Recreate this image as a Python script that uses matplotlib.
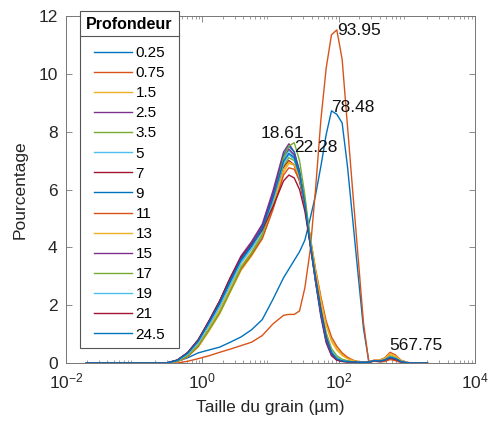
import matplotlib
matplotlib.use("Agg")
import matplotlib.pyplot as plt
from matplotlib.lines import Line2D
from matplotlib.ticker import LogLocator, NullFormatter

plt.rcParams['font.family'] = ['Liberation Sans', 'DejaVu Sans']

# grain size classes (µm), subset of the granulometer bins
taille = [0.02, 0.30, 0.43, 0.61, 0.87, 1.25, 1.80, 2.57, 3.69, 5.28, 7.57,
          10.85, 15.55, 18.61, 22.28, 26.67, 31.93, 38.23, 45.77, 54.79,
          65.59, 78.48, 93.95, 112.47, 134.65, 161.2, 193.0, 231.0, 276.8,
          331.3, 396.7, 474.9, 567.75, 680, 815, 975, 1167, 2000]

profondeurs = ['0.25', '0.75', '1.5', '2.5', '3.5', '5', '7', '9', '11',
               '13', '15', '17', '19', '21', '24.5']

p_025 = [0, 0, 0.06, 0.18, 0.35, 0.45, 0.55, 0.72, 0.9, 1.15, 1.5, 2.2, 2.95,
         3.25, 3.55, 3.85, 4.25, 5.0, 5.8, 6.8, 7.9, 8.72, 8.6, 8.3, 6.8, 4.93,
         3.05, 1.2, 0.05, 0.08, 0.05, 0.06, 0.15, 0.1, 0.03, 0, 0, 0]
p_075 = [0, 0, 0, 0.06, 0.15, 0.25, 0.37, 0.48, 0.6, 0.72, 0.95, 1.35, 1.65,
         1.68, 1.68, 1.8, 2.6, 3.9, 6.0, 8.4, 10.2, 11.35, 11.52, 10.5, 8.2,
         5.9, 3.65, 1.4, 0.03, 0.06, 0.04, 0.05, 0.12, 0.08, 0.02, 0, 0, 0]
p_15 = [0, 0, 0.05, 0.22, 0.55, 1.1, 1.7, 2.45, 3.2, 3.7, 4.3, 5.35, 6.6, 6.9,
        6.85, 6.4, 5.55, 4.35, 3.2, 2.2, 1.35, 0.8, 0.5, 0.3, 0.17, 0.09, 0.05,
        0.03, 0.03, 0.07, 0.08, 0.15, 0.3, 0.22, 0.08, 0.02, 0, 0]
p_25 = [0, 0, 0.1, 0.36, 0.8, 1.45, 2.15, 2.95, 3.7, 4.2, 4.8, 5.95, 7.3, 7.58,
        7.3, 6.6, 5.5, 4.1, 2.8, 1.6, 0.7, 0.25, 0.1, 0.06, 0.05, 0.04, 0.03,
        0.02, 0.03, 0.08, 0.06, 0.1, 0.2, 0.14, 0.05, 0.01, 0, 0]
p_35 = [0, 0, 0.06, 0.25, 0.6, 1.15, 1.75, 2.5, 3.25, 3.75, 4.35, 5.45, 6.8,
        7.1, 7.0, 6.5, 5.6, 4.3, 3.05, 1.95, 1.05, 0.5, 0.25, 0.13, 0.08, 0.05,
        0.03, 0.02, 0.03, 0.08, 0.07, 0.12, 0.24, 0.17, 0.06, 0.02, 0, 0]
p_5 = [0, 0, 0.08, 0.31, 0.72, 1.32, 2.0, 2.75, 3.5, 4.0, 4.6, 5.7, 7.05, 7.35,
       7.15, 6.55, 5.55, 4.2, 2.95, 1.8, 0.9, 0.38, 0.16, 0.08, 0.05, 0.04,
       0.03, 0.02, 0.03, 0.08, 0.07, 0.1, 0.2, 0.15, 0.06, 0.02, 0, 0]
p_7 = [0, 0, 0.1, 0.35, 0.78, 1.42, 2.1, 2.9, 3.6, 4.05, 4.6, 5.6, 6.75, 7.0,
       6.85, 6.3, 5.4, 4.1, 2.85, 1.7, 0.75, 0.28, 0.1, 0.05, 0.04, 0.03, 0.02,
       0.02, 0.03, 0.07, 0.06, 0.1, 0.18, 0.13, 0.05, 0.01, 0, 0]
p_9 = [0, 0, 0.09, 0.33, 0.75, 1.38, 2.05, 2.8, 3.55, 4.05, 4.7, 5.8, 7.2, 7.5,
       7.3, 6.65, 5.6, 4.2, 2.9, 1.75, 0.85, 0.35, 0.14, 0.07, 0.05, 0.04,
       0.03, 0.02, 0.03, 0.08, 0.07, 0.11, 0.22, 0.16, 0.06, 0.02, 0, 0]
p_11 = [0, 0, 0.05, 0.22, 0.58, 1.15, 1.75, 2.5, 3.25, 3.75, 4.3, 5.3, 6.5,
        6.75, 6.7, 6.3, 5.5, 4.35, 3.25, 2.3, 1.45, 0.9, 0.58, 0.35, 0.2, 0.1,
        0.05, 0.03, 0.04, 0.1, 0.1, 0.18, 0.37, 0.28, 0.1, 0.03, 0, 0]
p_13 = [0, 0, 0.06, 0.26, 0.64, 1.22, 1.85, 2.6, 3.35, 3.85, 4.45, 5.5, 6.7,
        6.95, 6.85, 6.4, 5.55, 4.35, 3.2, 2.2, 1.3, 0.75, 0.45, 0.26, 0.15,
        0.08, 0.05, 0.03, 0.03, 0.09, 0.09, 0.16, 0.32, 0.24, 0.09, 0.02, 0, 0]
p_15b = [0, 0, 0.1, 0.36, 0.8, 1.45, 2.15, 2.9, 3.65, 4.15, 4.75, 5.85, 7.15,
         7.4, 7.2, 6.55, 5.5, 4.15, 2.85, 1.7, 0.8, 0.32, 0.13, 0.07, 0.05,
         0.04, 0.03, 0.02, 0.03, 0.08, 0.07, 0.1, 0.2, 0.15, 0.05, 0.01, 0, 0]
p_17 = [0, 0, 0.06, 0.25, 0.6, 1.15, 1.75, 2.5, 3.3, 3.8, 4.45, 5.6, 7.1, 7.5,
        7.62, 7.0, 5.8, 4.3, 2.95, 1.85, 0.95, 0.45, 0.2, 0.1, 0.06, 0.04,
        0.03, 0.02, 0.03, 0.08, 0.07, 0.12, 0.24, 0.17, 0.06, 0.02, 0, 0]
p_19 = [0, 0, 0.08, 0.3, 0.7, 1.3, 1.95, 2.7, 3.45, 3.95, 4.55, 5.6, 6.9, 7.2,
        7.05, 6.5, 5.5, 4.2, 2.95, 1.85, 0.95, 0.42, 0.18, 0.09, 0.05, 0.04,
        0.03, 0.02, 0.03, 0.08, 0.07, 0.11, 0.22, 0.16, 0.06, 0.02, 0, 0]
p_21 = [0, 0, 0.1, 0.36, 0.8, 1.45, 2.15, 2.95, 3.65, 4.1, 4.6, 5.4, 6.3, 6.5,
        6.4, 6.0, 5.25, 4.1, 2.95, 1.85, 0.9, 0.35, 0.12, 0.06, 0.04, 0.03,
        0.02, 0.02, 0.03, 0.07, 0.06, 0.1, 0.19, 0.14, 0.05, 0.01, 0, 0]
p_245 = [0, 0, 0.09, 0.34, 0.76, 1.4, 2.08, 2.85, 3.58, 4.07, 4.65, 5.7, 6.98,
         7.25, 7.1, 6.5, 5.5, 4.15, 2.9, 1.75, 0.85, 0.35, 0.14, 0.07, 0.05,
         0.04, 0.03, 0.02, 0.03, 0.08, 0.07, 0.1, 0.2, 0.15, 0.05, 0.01, 0, 0]

courbes = [p_025, p_075, p_15, p_25, p_35, p_5, p_7, p_9, p_11, p_13, p_15b,
           p_17, p_19, p_21, p_245]

# peak annotations: text, x, y, alignment
pics_txt = ['93.95', '78.48', '18.61', '22.28', '567.75']
pics_x = [93.95, 78.48, 15.2, 22.28, 560]
pics_y = [11.5, 8.85, 7.95, 7.44, 0.6]
pics_ha = ['left', 'left', 'center', 'left', 'left']

# MATLAB default colour order
couleurs = ['#0072BD', '#D95319', '#EDB120', '#7E2F8E', '#77AC30',
            '#4DBEEE', '#A2142F']

fig = plt.figure(figsize=(4.9, 4.24), dpi=100)
ax = fig.add_axes([66 / 490, 1 - 363 / 424, 409 / 490, 347 / 424])

for i, (y, lab) in enumerate(zip(courbes, profondeurs)):
    ax.plot(taille, y, color=couleurs[i % 7], lw=1.0, label=lab)

for t, x, y, ha in zip(pics_txt, pics_x, pics_y, pics_ha):
    ax.text(x, y, t, ha=ha, va='center', fontsize=12.5, color='#111111')

ax.set_xscale('log')
ax.set_xlim(1e-2, 1e4)
ax.set_ylim(0, 12)
ax.set_yticks(range(0, 13, 2))
ax.xaxis.set_major_locator(plt.FixedLocator([1e-2, 1e0, 1e2, 1e4]))
ax.xaxis.set_minor_locator(LogLocator(base=10, subs=range(2, 10), numticks=20))
ax.xaxis.set_minor_formatter(NullFormatter())

for s in ax.spines.values():
    s.set_color('#777777')
    s.set_linewidth(0.7)
ax.tick_params(which='both', direction='in', top=True, right=True,
               color='#777777', labelcolor='#262626', labelsize=12.5)
ax.tick_params(which='major', length=4, width=0.6, pad=6)
ax.tick_params(which='minor', length=2.5, width=0.5)

ax.set_xlabel('Taille du grain (µm)', fontsize=12.5, color='#262626', labelpad=6)
ax.set_ylabel('Pourcentage', fontsize=12.5, color='#262626', labelpad=8)

leg = ax.legend(loc='upper left', bbox_to_anchor=(80 / 490, 1 - 11 / 424),
                bbox_transform=fig.transFigure, title='Profondeur',
                title_fontproperties={'weight': 'bold', 'size': 11.5},
                fontsize=11, frameon=True, fancybox=False,
                edgecolor='#555555', framealpha=1, borderpad=0.4,
                labelspacing=0.4, handlelength=2.5, handletextpad=0.25,
                borderaxespad=0)
leg.get_frame().set_linewidth(0.8)
leg._legend_box.sep = 10

# separator under the legend title, as in MATLAB
fig.canvas.draw()
r = fig.canvas.get_renderer()
fb = leg.get_frame().get_window_extent(r)
tb = leg.get_title().get_window_extent(r)
ysep = (tb.y0 - 4) / fig.bbox.height
fig.add_artist(Line2D([fb.x0 / fig.bbox.width, fb.x1 / fig.bbox.width],
                      [ysep, ysep], color='#555555', lw=0.8,
                      transform=fig.transFigure))

fig.savefig('out.png', dpi=100)
